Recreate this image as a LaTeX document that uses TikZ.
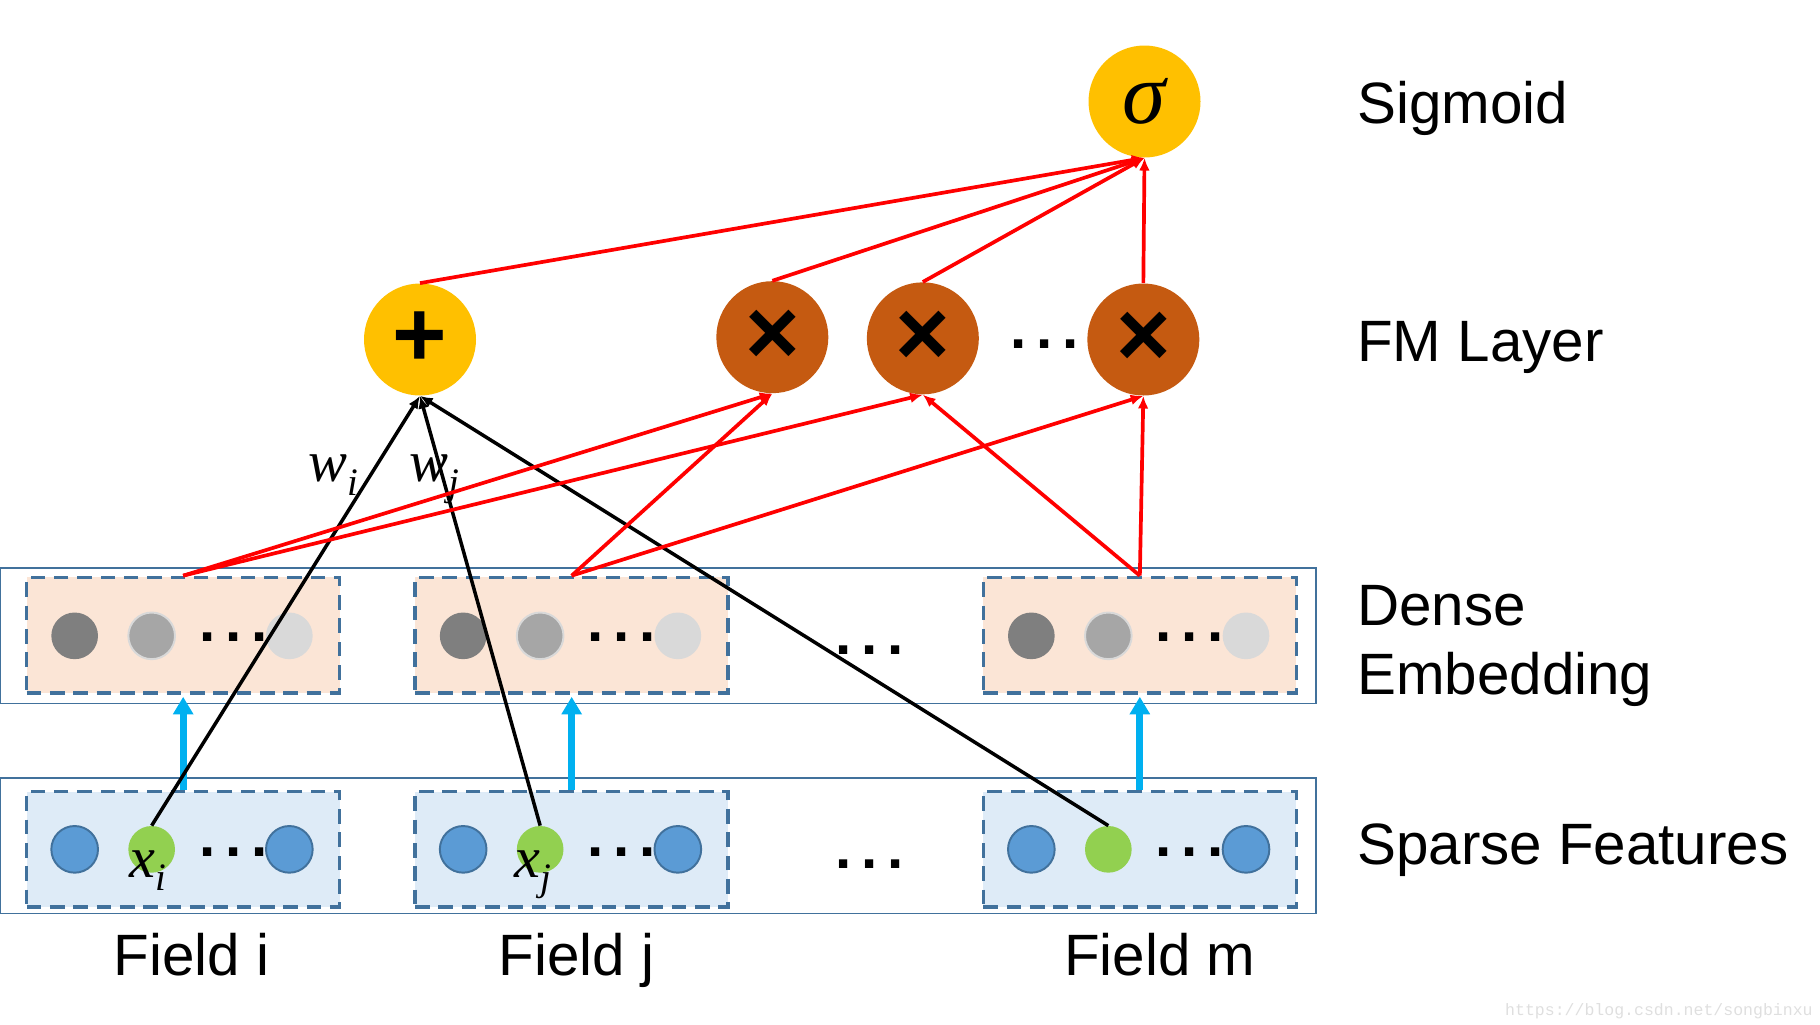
\documentclass[tikz,border=0pt]{standalone}
\usepackage{fontspec}
\setmainfont{Liberation Sans}
\newfontfamily\markfont{Liberation Mono}
\newfontfamily\timesfont{Liberation Serif}
\usetikzlibrary{positioning}
\usetikzlibrary{arrows.meta}
\tikzset{>={Latex[width=5.5pt,length=6.5pt]}}
\definecolor{gold}{HTML}{FFC000}
\definecolor{rust}{HTML}{C55A11}
\definecolor{peach}{HTML}{FBE5D6}
\definecolor{paleblue}{HTML}{DEEBF7}
\definecolor{edgeblue}{HTML}{41719C}
\definecolor{unitblue}{HTML}{5B9BD5}
\definecolor{unitgreen}{HTML}{92D050}
\definecolor{liftblue}{HTML}{00B0F0}
\definecolor{greyA}{HTML}{7F7F7F}
\definecolor{greyB}{HTML}{A6A6A6}
\definecolor{greyC}{HTML}{D9D9D9}
\newcommand{\fmdots}{\textbf{.\hspace{5pt}.\hspace{5pt}.}}
% italic symbol with a lowered index
\newcommand{\fmsym}[2]{{\timesfont\itshape #1\raisebox{-6.9pt}{\fontsize{20}{20}\selectfont #2}}}

\begin{document}
\begin{tikzpicture}[
    x = 0.6pt, y = -0.6pt,
    every node/.style = {font=\fontsize{30}{36}\selectfont},
    layer/.style = {draw=edgeblue, line width=1pt},
    fieldbox/.style = {draw=edgeblue, line width=1.8pt,
        dash pattern=on 7.5pt off 4.5pt, minimum width=161pt,
        minimum height=59.5pt, inner sep=0pt},
    dense/.style = {fieldbox, fill=peach},
    sparse/.style = {fieldbox, fill=paleblue},
    unit/.style = {circle, minimum size=24pt, inner sep=0pt},
    op/.style = {circle, minimum size=57.6pt, inner sep=0pt},
    sign/.style = {font=\fontsize{48}{48}\selectfont\bfseries},
    label/.style = {inner sep=0pt, anchor=base west},
    wire/.style = {red, line width=1.9pt, ->},
    weight/.style = {black, line width=1.8pt, ->},
    lift/.style = {liftblue, line width=3.6pt,
        -{Triangle[width=10pt,length=9pt]}, shorten >=1pt}
  ]
  \useasboundingbox (0,0) rectangle (1560,878);

  % layer frames
  \draw[layer] (0,487) rectangle (1128,603);
  \draw[layer] (0,667) rectangle (1128,783);

  % one field per column
  \foreach \f/\x in {i/157, j/490, m/977} {
    \node[dense]  (D\f) at (\x,544.5) {};
    \node[sparse] (S\f) at (\x,728) {};
    \node[unit, fill=greyA] (D\f1) at (\x-93,545) {};
    \node[unit, fill=greyB, draw=greyC, line width=1pt] (D\f2) at (\x-27,545) {};
    \node[unit, fill=greyC] (D\f3) at (\x+91,545) {};
    \node[unit, fill=unitblue, draw=edgeblue, line width=1pt] (S\f1) at (\x-93,728) {};
    \node[unit, fill=unitgreen] (S\f2) at (\x-27,728) {};
    \node[unit, fill=unitblue, draw=edgeblue, line width=1pt] (S\f3) at (\x+91,728) {};
    \node[anchor=base] (DD\f) at (\x+43,550) {\fmdots};
    \node[anchor=base] (SD\f) at (\x+43,734) {\fmdots};
    \draw[lift] (S\f.north) -- (D\f.south);
  }
  \node[anchor=base] (DDOTS) at (745,561) {\fmdots};
  \node[anchor=base] (SDOTS) at (745,744) {\fmdots};

  % FM layer and output
  \node[op, fill=gold] (SIG) at (981,87)
    {\timesfont\itshape\fontsize{45}{45}\selectfont σ};
  \node[op, fill=gold, sign] (PLUS) at (360,291) {+};
  \node[op, fill=rust, sign] (PA) at (662,289) {×};
  \node[op, fill=rust, sign] (PB) at (791,290) {×};
  \node[op, fill=rust, sign] (PC) at (980,291) {×};
  \node[anchor=base] (PDOTS) at (895,299) {\fmdots};

  % first order terms
  \foreach \f in {i, j, m}
    \draw[weight] (S\f2.north) -- (PLUS.south);
  \node[label] (WI) at (264,413) {\fmsym{w}{i}};
  \node[label] (WJ) at (351,413) {\fmsym{w}{j}};
  \node[label] (XI) at (111,752) {\fmsym{x}{i}};
  \node[label] (XJ) at (441,752) {\fmsym{x}{j}};

  % pairwise products
  \draw[wire] (Di.north) -- (PA.south);
  \draw[wire] (Di.north) -- (PB.south);
  \draw[wire] (Dj.north) -- (PA.south);
  \draw[wire] (Dj.north) -- (PC.south);
  \draw[wire] (Dm.north) -- (PB.south);
  \draw[wire] (Dm.north) -- (PC.south);
  \foreach \n in {PLUS, PA, PB, PC}
    \draw[wire] (\n.north) -- (SIG.south);

  % row names
  \node[label] (LSIG) at (1163,106) {Sigmoid};
  \node[label] (LFM) at (1163,310) {FM Layer};
  \node[label] (LDENSE) at (1163,536) {Dense};
  \node[label] (LEMB) at (1163,595) {Embedding};
  \node[label] (LSPARSE) at (1163,741) {Sparse Features};
  \node[anchor=base, inner sep=0pt] (FI) at (164,836) {Field i};
  \node[anchor=base, inner sep=0pt] (FJ) at (494,836) {Field j};
  \node[anchor=base, inner sep=0pt] (FM) at (994,836) {Field m};

  \node[anchor=base east, text=gray!25, inner sep=0pt,
    font=\markfont\fontsize{8.5}{10}\selectfont] (URL) at (1554,870)
    {https://blog.csdn.net/songbinxu};
\end{tikzpicture}
\end{document}
